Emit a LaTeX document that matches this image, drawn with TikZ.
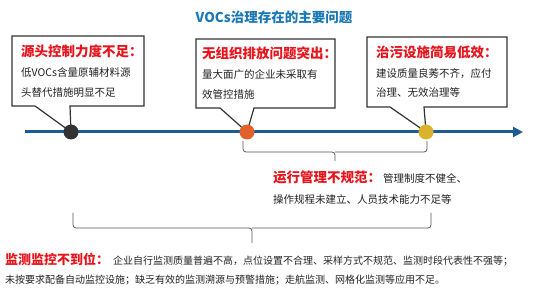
\documentclass[tikz,border=0pt]{standalone}
\usepackage{fontspec}
\setmainfont{Noto Sans CJK SC}
\usetikzlibrary{arrows.meta}
\definecolor{hdred}{HTML}{E8141C}
\definecolor{tlblue}{HTML}{1B5B96}
\definecolor{ttblue}{HTML}{1A78B4}
\definecolor{boxline}{HTML}{333333}
\definecolor{dotblack}{HTML}{333333}
\definecolor{dotorange}{HTML}{E0622A}
\definecolor{dotyellow}{HTML}{DBB22C}
\definecolor{brgray}{HTML}{555555}
\definecolor{txt}{HTML}{222222}
\tikzset{
  callout/.style={draw=boxline, line width=1.2pt, fill=white, line join=miter},
  dotnode/.style={circle, inner sep=0pt, minimum size=14pt},
  hd/.style={anchor=base west, inner sep=0pt, text=hdred, font=\fontsize{13.5}{16}\selectfont\bfseries},
  bd/.style={anchor=base west, inner sep=0pt, text=txt, font=\fontsize{10.5}{12}\selectfont},
  brace/.style={draw=brgray, line width=0.8pt, rounded corners=3pt},
}
\begin{document}
\begin{tikzpicture}[x=1pt,y=-1pt]
\useasboundingbox (0,0) rectangle (549,296);
% title
\node[anchor=base, inner sep=0pt, text=ttblue, font=\fontsize{13.5}{16}\selectfont\bfseries] (title) at (274,23) {VOCs治理存在的主要问题};
% timeline
\coordinate (tl0) at (25,132);
\coordinate (tl1) at (523,132);
\draw[tlblue, line width=3pt, -{Triangle[length=10pt,width=10pt]}] (tl0) -- (tl1);
% dots
\node[dotnode] (d1) at (71,132) {};
\node[dotnode] (d2) at (247,132) {};
\node[dotnode] (d3) at (426,132) {};
% callout 1
\draw[callout] (12,36) -- (144,36) -- (144,106) -- (70,106) -- (d1.center) -- (35,106) -- (12,106) -- cycle;
\node[hd] (h1) at (21,57) {源头控制力度不足：};
\node[bd] (b1a) at (21,77) {低VOCs含量原辅材料源};
\node[bd] (b1b) at (21,97) {头替代措施明显不足};
% callout 2
\draw[callout] (196,39) -- (335,39) -- (335,108) -- (254,108) -- (d2.center) -- (220,108) -- (196,108) -- cycle;
\node[hd] (h2) at (202,59) {无组织排放问题突出：};
\node[bd] (b2a) at (202,79) {量大面广的企业未采取有};
\node[bd] (b2b) at (202,99) {效管控措施};
% callout 3
\draw[callout] (367,37) -- (507,37) -- (507,107) -- (424,107) -- (d3.center) -- (390,107) -- (367,107) -- cycle;
\node[hd] (h3) at (376,58) {治污设施简易低效：};
\node[bd] (b3a) at (376,78) {建设质量良莠不齐，应付};
\node[bd] (b3b) at (376,97) {治理、无效治理等};
% dots drawn on top
\fill[dotblack] (d1) circle (7.5pt);
\fill[dotorange] (d2) circle (7.5pt);
\fill[dotyellow] (d3) circle (7.5pt);
% upper brace
\coordinate (u1) at (243,141);
\coordinate (u2) at (427,141);
\coordinate (um) at (335,161);
\draw[brace] (u1) -- (243,152) -- (335,152) -- (um);
\draw[brace] (u2) -- (427,152) -- (335,152);
\node[anchor=base west, inner sep=0pt] (r1) at (273,183) {{\fontsize{13.5}{16}\selectfont\bfseries\color{hdred}运行管理不规范：}\hspace{2pt}{\fontsize{10.5}{12}\selectfont\color{txt}管理制度不健全、}};
\node[bd] (r2) at (273,204) {操作规程未建立、人员技术能力不足等};
% lower brace
\coordinate (l1) at (73,213);
\coordinate (l2) at (431,213);
\coordinate (lm) at (252,243);
\draw[brace] (l1) -- (73,228) -- (252,228) -- (lm);
\draw[brace] (l2) -- (431,228) -- (252,228);
\node[anchor=base west, inner sep=0pt] (m1) at (5,265) {{\fontsize{13}{16}\selectfont\bfseries\color{hdred}监测监控不到位：}\hspace{4pt}{\fontsize{10}{12}\selectfont\color{txt}企业自行监测质量普遍不高，点位设置不合理、采样方式不规范、监测时段代表性不强等；}};
\node[anchor=base west, inner sep=0pt, text=txt, font=\fontsize{10}{12}\selectfont] (m2) at (5,284) {未按要求配备自动监控设施；缺乏有效的监测溯源与预警措施；走航监测、网格化监测等应用不足。};
\end{tikzpicture}
\end{document}
